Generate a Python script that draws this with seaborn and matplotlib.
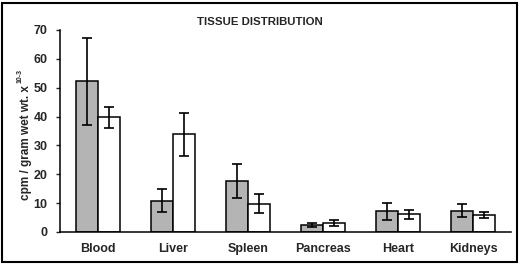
import pandas as pd
import matplotlib.pyplot as plt
import seaborn as sns
from matplotlib.patches import Rectangle

tissues = ['Blood', 'Liver', 'Spleen', 'Pancreas', 'Heart', 'Kidneys']
series = ['A', 'B']
values_a = [52.2, 10.8, 17.6, 2.4, 7.2, 7.4]
errors_a = [15.0, 4.0, 5.8, 0.8, 2.9, 2.2]
values_b = [39.8, 33.8, 9.8, 3.2, 6.1, 5.9]
errors_b = [3.6, 7.4, 3.3, 1.0, 1.6, 1.0]

data = pd.DataFrame({
    'tissue': tissues * 2,
    'group': [series[0]] * 6 + [series[1]] * 6,
    'value': values_a + values_b,
})

sns.set_style('white')
plt.rcParams['font.family'] = ['Liberation Sans', 'DejaVu Sans']
plt.rcParams['font.weight'] = 'bold'

fig = plt.figure(figsize=(5.2, 2.65), dpi=100)
ax = fig.add_axes([60 / 520, 1 - 232 / 265, 451 / 520, 202 / 265])

sns.barplot(data=data, x='tissue', y='value', hue='group', order=tissues,
            hue_order=series, palette=['#b4b4b4', 'white'], width=0.585,
            edgecolor='black', linewidth=1.1, errorbar=None, legend=False,
            saturation=1, ax=ax)

bars = sorted([p for p in ax.patches if p.get_height() > 0], key=lambda p: p.get_x())
pa = bars[0::2]
pb = bars[1::2]
for patches, vals, er in [(pa, values_a, errors_a), (pb, values_b, errors_b)]:
    xs = [p.get_x() + p.get_width() / 2 for p in patches]
    ax.errorbar(xs, vals, yerr=er, fmt='none', ecolor='black',
                elinewidth=1.2, capsize=3.5, capthick=1.2, zorder=5)

ax.set_xlim(-0.5, 5.5)
ax.set_ylim(0, 70)
ax.set_yticks(range(0, 71, 10))
ax.set_xlabel('')
ax.set_ylabel('')
for s in ['top', 'right']:
    ax.spines[s].set_visible(False)
for s in ['left', 'bottom']:
    ax.spines[s].set_color('black')
    ax.spines[s].set_linewidth(1.1)
ax.tick_params(axis='y', direction='out', length=3, width=1, left=True,
               labelsize=9, pad=6)
ax.tick_params(axis='x', length=0, labelsize=9, pad=8)
for lab in ax.get_xticklabels() + ax.get_yticklabels():
    lab.set_fontweight('bold')

# y label with small superscript
yl = fig.text(26 / 520, 1 - 143 / 265, 'cpm / gram wet wt. x', rotation=90,
              ha='center', va='center', fontsize=8.5, fontweight='bold')
fig.text(20 / 520, 1 - 83 / 265, '10-3', rotation=90, ha='center',
         va='bottom', fontsize=5, fontweight='bold')

fig.text(0.5, 1 - 22 / 265, 'TISSUE DISTRIBUTION', ha='center', va='center',
         fontsize=8.2, fontweight='bold')
fig.patches.append(Rectangle((2 / 520, 3 / 265), 515 / 520, 259 / 265,
                             transform=fig.transFigure, fill=False,
                             edgecolor='black', linewidth=1.5))

fig.savefig('out.png', dpi=100)
